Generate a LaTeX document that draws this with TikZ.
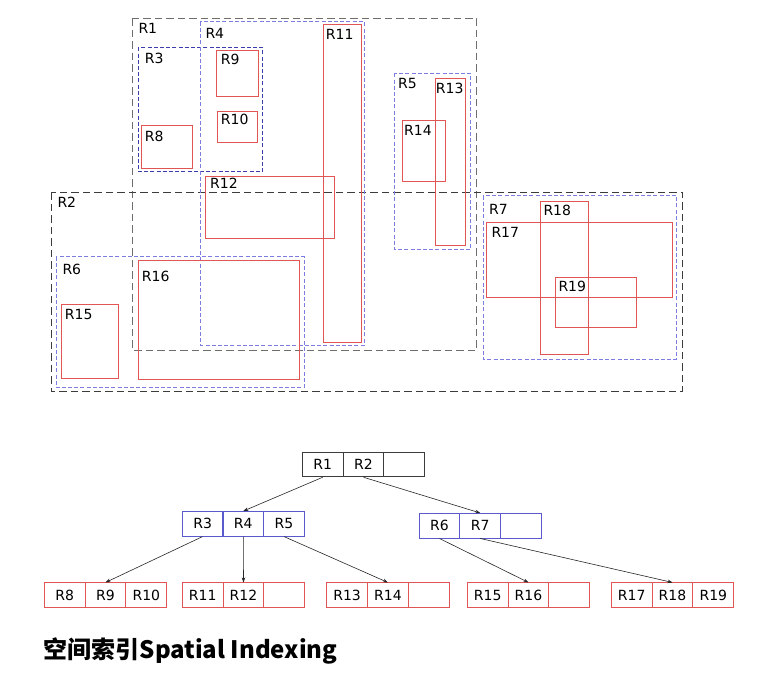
\documentclass[tikz,border=0pt]{standalone}
\usepackage{fontspec}
\setmainfont{DejaVu Sans}
\newfontfamily\cjk{Noto Sans CJK SC}
\usepackage{tikz}
\usetikzlibrary{arrows.meta}
\definecolor{mbrgray}{RGB}{110,110,110}
\definecolor{mbrdark}{RGB}{60,60,60}
\definecolor{mbrblue}{RGB}{125,125,225}
\definecolor{mbrnavy}{RGB}{60,60,170}
\definecolor{mbrred}{RGB}{225,85,85}
\definecolor{treeblue}{RGB}{90,90,205}

\begin{document}
\begin{tikzpicture}[x=1pt,y=1pt,
    lvlone/.style={dash pattern=on 7.5pt off 4pt, line width=1pt},
    lvltwo/.style={dash pattern=on 4pt off 2.2pt, line width=1pt},
    leaf/.style={mbrred, line width=1pt},
    lbl/.style={anchor=north west, inner sep=0pt, font=\fontsize{14}{16}\selectfont},
    cell/.style={draw, minimum width=40.8pt, minimum height=24.6pt, inner sep=0pt,
      line width=0.9pt, font=\fontsize{14}{16}\selectfont},
    ptr/.style={-{Stealth[length=5pt,width=3.6pt]}, line width=0.6pt, black!85}]
              \useasboundingbox (0,0) rectangle (767,-675);
              % level one
              \draw [mbrgray, lvlone] (132.3,-18.3) rectangle (476.7,-350);
              \draw [mbrdark, lvlone] (51.7,-192.3) rectangle (682.3,-391.7);
              % level two
              \draw [mbrnavy, lvltwo] (138.3,-47.3) rectangle (262.3,-171.7);
              \draw [mbrblue, lvltwo] (200.3,-21.7) rectangle (364.3,-345);
              \draw [mbrblue, lvltwo] (394.3,-73.3) rectangle (470.7,-249.3);
              \draw [mbrblue, lvltwo] (56,-256.7) rectangle (304.3,-387.3);
              \draw [mbrblue, lvltwo] (483.3,-195.7) rectangle (676.7,-359);
              % leaves
              \draw [leaf] (141,-125.3) rectangle (192.3,-168.3);
              \draw [leaf] (216.7,-50.3) rectangle (258.3,-96);
              \draw [leaf] (217.3,-111.3) rectangle (257.3,-142);
              \draw [leaf] (323.3,-24) rectangle (361.7,-342.3);
              \draw [leaf] (205.7,-176) rectangle (334.3,-238.3);
              \draw [leaf] (435,-78.3) rectangle (465.3,-245.7);
              \draw [leaf] (402.3,-120) rectangle (445.7,-181);
              \draw [leaf] (61.7,-304.3) rectangle (118.3,-378.3);
              \draw [leaf] (138,-260.3) rectangle (299.3,-379.3);
              \draw [leaf] (486.7,-222.3) rectangle (672.3,-297.7);
              \draw [leaf] (540.3,-201.3) rectangle (588.3,-354.3);
              \draw [leaf] (555.3,-277.3) rectangle (636,-327);
              % labels
              \node [lbl] (tR1) at (138.3,-22.7) {R1};
              \node [lbl] (tR2) at (57.3,-197.3) {R2};
              \node [lbl] (tR3) at (144.7,-52.7) {R3};
              \node [lbl] (tR4) at (205.3,-28.3) {R4};
              \node [lbl] (tR5) at (398,-78.3) {R5};
              \node [lbl] (tR6) at (62.3,-264.3) {R6};
              \node [lbl] (tR7) at (489,-204) {R7};
              \node [lbl] (tR8) at (144.7,-130.7) {R8};
              \node [lbl] (tR9) at (220.7,-54.3) {R9};
              \node [lbl] (tR10) at (220.7,-114.3) {R10};
              \node [lbl] (tR11) at (325.7,-29.3) {R11};
              \node [lbl] (tR12) at (210,-178.3) {R12};
              \node [lbl] (tR13) at (435.7,-82.7) {R13};
              \node [lbl] (tR14) at (404,-125) {R14};
              \node [lbl] (tR15) at (64.7,-309) {R15};
              \node [lbl] (tR16) at (141.7,-271) {R16};
              \node [lbl] (tR17) at (491.3,-227.3) {R17};
              \node [lbl] (tR18) at (543.3,-205) {R18};
              \node [lbl] (tR19) at (558.3,-280.7) {R19};
              % tree: root
              \node [cell, draw=mbrdark] (r1) at (322.7,-464.5) {R1};
              \node [cell, draw=mbrdark] (r2) at (363.5,-464.5) {R2};
              \node [cell, draw=mbrdark] (r0) at (404.3,-464.5) {};
              % tree: inner
              \node [cell, draw=treeblue] (r3) at (202.6,-523.8) {R3};
              \node [cell, draw=treeblue] (r4) at (243.3,-523.8) {R4};
              \node [cell, draw=treeblue] (r5) at (284,-523.8) {R5};
              \node [cell, draw=treeblue] (r6) at (439.4,-525.7) {R6};
              \node [cell, draw=treeblue] (r7) at (480.2,-525.7) {R7};
              \node [cell, draw=treeblue] (r67) at (521,-525.7) {};
              % tree: leaves
              \node [cell, draw=mbrred] (r8) at (64.7,-595.2) {R8};
              \node [cell, draw=mbrred] (r9) at (105.5,-595.2) {R9};
              \node [cell, draw=mbrred] (r10) at (146.3,-595.2) {R10};
              \node [cell, draw=mbrred] (r11) at (202.7,-595.2) {R11};
              \node [cell, draw=mbrred] (r12) at (243.5,-595.2) {R12};
              \node [cell, draw=mbrred] (r1112) at (284.3,-595.2) {};
              \node [cell, draw=mbrred] (r13) at (347.1,-595.2) {R13};
              \node [cell, draw=mbrred] (r14) at (387.9,-595.2) {R14};
              \node [cell, draw=mbrred] (r1314) at (428.7,-595.2) {};
              \node [cell, draw=mbrred] (r15) at (487.7,-595.2) {R15};
              \node [cell, draw=mbrred] (r16) at (528.5,-595.2) {R16};
              \node [cell, draw=mbrred] (r1516) at (569.3,-595.2) {};
              \node [cell, draw=mbrred] (r17) at (631.7,-595.2) {R17};
              \node [cell, draw=mbrred] (r18) at (672.5,-595.2) {R18};
              \node [cell, draw=mbrred] (r19) at (713.3,-595.2) {R19};
              % pointers
              \draw [ptr] (r1.south) -- (r4.north);
              \draw [ptr] (r2.south) -- (r7.north);
              \draw [ptr] (r3.south) -- (r9.north);
              \draw [ptr] (r4.south) -- (r12.north);
              \draw [ptr] (r5.south) -- (r14.north);
              \draw [ptr] (r6.south) -- (r16.north);
              \draw [ptr] (r7.south) -- (r18.north);
              % caption
              \node [anchor=base west, inner sep=0pt, font=\cjk\bfseries\fontsize{24}{28}\selectfont]
                (caption) at (43.5,-658) {空间索引Spatial Indexing};
            \end{tikzpicture}
\end{document}
